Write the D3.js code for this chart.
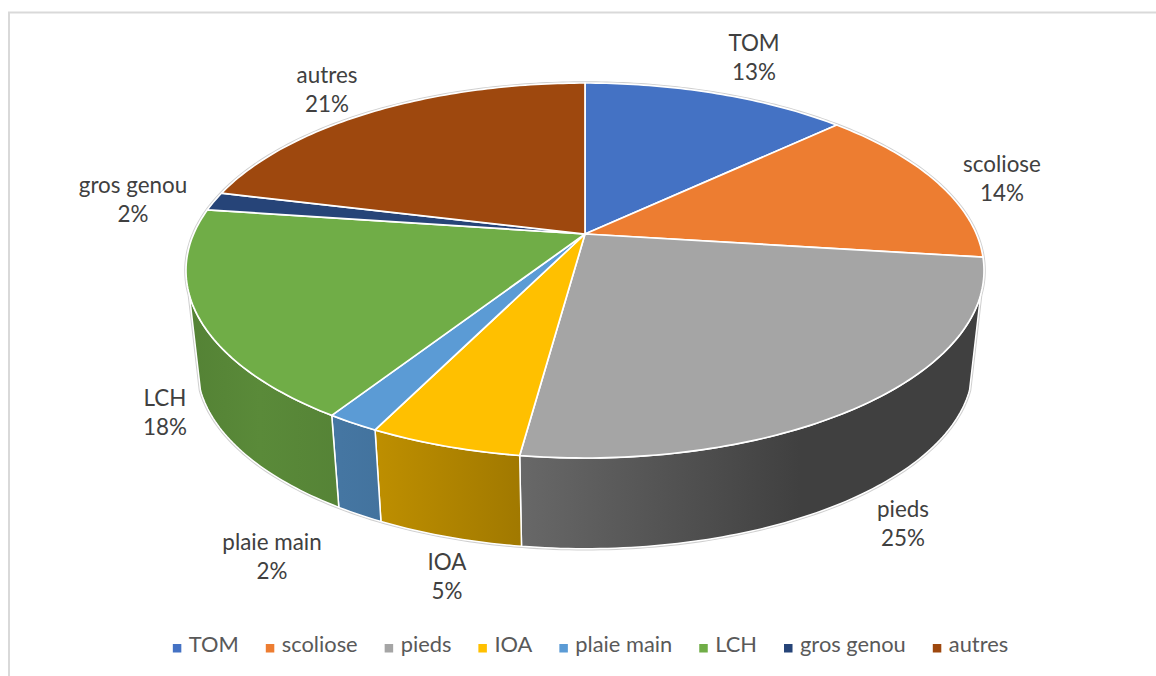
<!DOCTYPE html>
<html>
<head>
<meta charset="utf-8">
<script src="https://cdn.jsdelivr.net/npm/d3@7"></script>
<style>
  body { margin: 0; background: #fff; overflow: hidden; }
  text { font-family: Lato, "Open Sans", sans-serif; }
</style>
</head>
<body>
<div id="chart"></div>
<script>
// chart data
var categories = ["TOM", "scoliose", "pieds", "IOA", "plaie main", "LCH", "gros genou", "autres"];
var values = [13, 14, 25.15, 5.15, 1.8, 18.1, 1.6, 21.2];
var colors = ["#4472c4", "#ed7d31", "#a5a5a5", "#ffc000", "#5b9bd5", "#70ad47", "#264478", "#9e480e"];

// where each data label is centred
var labelX = [754, 1002, 903, 447, 272, 165, 133, 327];
var labelY = [44, 165, 510, 563, 543, 399, 186, 76];

var svgWidth = 1156;
var svgHeight = 676;

// the tilted disc: apex of the slices, perspective strength, axis scales
var apex = { x: 585, y: 234 };
var persp = 0.1947;
var scaleU = 391.4;
var scaleV = 180.4;

// the bottom rim is the top rim a bit smaller and lower down
var rimScale = 0.972;
var rimY = 331;

// the part of the side wall that faces the viewer
var wallStart = 108.5 * Math.PI / 180;
var wallEnd = 251.5 * Math.PI / 180;

var svg = d3.select("#chart")
  .append("svg")
  .attr("width", svgWidth)
  .attr("height", svgHeight);

var defs = svg.append("defs");

// frame of the chart, it runs off the right of the picture
svg.append("rect")
  .attr("x", 9)
  .attr("y", 12.5)
  .attr("width", svgWidth)
  .attr("height", svgHeight)
  .attr("fill", "none")
  .attr("stroke", "#d9d9d9")
  .attr("stroke-width", 2);

var color = d3.scaleOrdinal().domain(categories).range(colors);

var pie = d3.pie().sort(null).value(d => d.value);
var slices = pie(categories.map((c, i) => ({ name: c, value: values[i] })));

function topPoint(a) {
  var u = Math.sin(a);
  var v = -Math.cos(a);
  var w = 1 - persp * v;
  return [apex.x + scaleU * u / w, apex.y + scaleV * v / w];
}

function rimPoint(a) {
  var p = topPoint(a);
  return [apex.x + (p[0] - apex.x) * rimScale, rimY + (p[1] - apex.y) * rimScale];
}

function arcPoints(a0, a1, fn) {
  var n = Math.max(2, Math.ceil(Math.abs(a1 - a0) * 60));
  return d3.range(n + 1).map(i => fn(a0 + (a1 - a0) * i / n));
}

var line = d3.line();

// shading of the wall goes with the horizontal position
var shadeX = [190, 260, 380, 520, 800, 985];
var shadeK = [0.75, 0.8, 0.74, 0.63, 0.385, 0.385];
var xPct = d3.scaleLinear().domain([190, 985]).range([0, 100]);

slices.forEach(function(d, i) {
  var grad = defs.append("linearGradient")
    .attr("id", "wall" + i)
    .attr("gradientUnits", "userSpaceOnUse")
    .attr("x1", 190).attr("x2", 985)
    .attr("y1", 0).attr("y2", 0);
  var c = d3.rgb(color(d.data.name));
  shadeX.forEach(function(x, j) {
    grad.append("stop")
      .attr("offset", xPct(x) + "%")
      .attr("stop-color", d3.rgb(c.r * shadeK[j], c.g * shadeK[j], c.b * shadeK[j]).formatHex());
  });
});

// grey outline round the whole shape
var outline = arcPoints(wallEnd, wallStart + 2 * Math.PI, topPoint)
  .concat(arcPoints(wallStart, wallEnd, rimPoint));
svg.append("path")
  .attr("d", line(outline) + "Z")
  .attr("fill", "none")
  .attr("stroke", "#cfcfcf")
  .attr("stroke-width", 3.5)
  .attr("stroke-linejoin", "round");

// side walls
svg.append("g")
  .selectAll("path")
  .data(slices.filter(d => d.endAngle > wallStart && d.startAngle < wallEnd))
  .enter()
  .append("path")
  .attr("d", function(d) {
    var a0 = Math.max(d.startAngle, wallStart);
    var a1 = Math.min(d.endAngle, wallEnd);
    var pts = arcPoints(a0, a1, topPoint).concat(arcPoints(a1, a0, rimPoint));
    return line(pts) + "Z";
  })
  .attr("fill", d => "url(#wall" + d.index + ")")
  .attr("stroke", "#fff")
  .attr("stroke-width", 1.5)
  .attr("stroke-linejoin", "round");

// top of the pie
svg.append("g")
  .selectAll("path")
  .data(slices)
  .enter()
  .append("path")
  .attr("d", function(d) {
    var pts = [[apex.x, apex.y]].concat(arcPoints(d.startAngle, d.endAngle, topPoint));
    return line(pts) + "Z";
  })
  .attr("fill", d => color(d.data.name))
  .attr("stroke", "#fff")
  .attr("stroke-width", 1.7)
  .attr("stroke-linejoin", "round");

// data labels, name over percent
var total = d3.sum(values);
var labels = svg.append("g")
  .selectAll("text")
  .data(slices)
  .enter()
  .append("text")
  .attr("text-anchor", "middle")
  .attr("font-size", 22.4)
  .attr("fill", "#404040");

labels.append("tspan")
  .attr("x", (d, i) => labelX[i])
  .attr("y", (d, i) => labelY[i] + 7)
  .text(d => d.data.name);

labels.append("tspan")
  .attr("x", (d, i) => labelX[i])
  .attr("y", (d, i) => labelY[i] + 36)
  .text(d => d3.format(".0%")(d.value / total));

// legend, laid out in a row and centred on the chart
var legend = svg.append("g");
var items = legend.selectAll("g")
  .data(categories)
  .enter()
  .append("g");

items.append("rect")
  .attr("y", 644)
  .attr("width", 8.5)
  .attr("height", 8.5)
  .attr("fill", d => color(d));

items.append("text")
  .attr("x", 16)
  .attr("y", 652)
  .attr("font-size", 21.85)
  .attr("fill", "#595959")
  .text(d => d);

var cursor = 0;
items.each(function() {
  var w = d3.select(this).select("text").node().getComputedTextLength();
  d3.select(this).attr("transform", `translate(${cursor}, 0)`);
  cursor += 16 + w + 27;
});
legend.attr("transform", `translate(${(172 + 1009 - (cursor - 27)) / 2}, 0)`);
</script>
</body>
</html>
